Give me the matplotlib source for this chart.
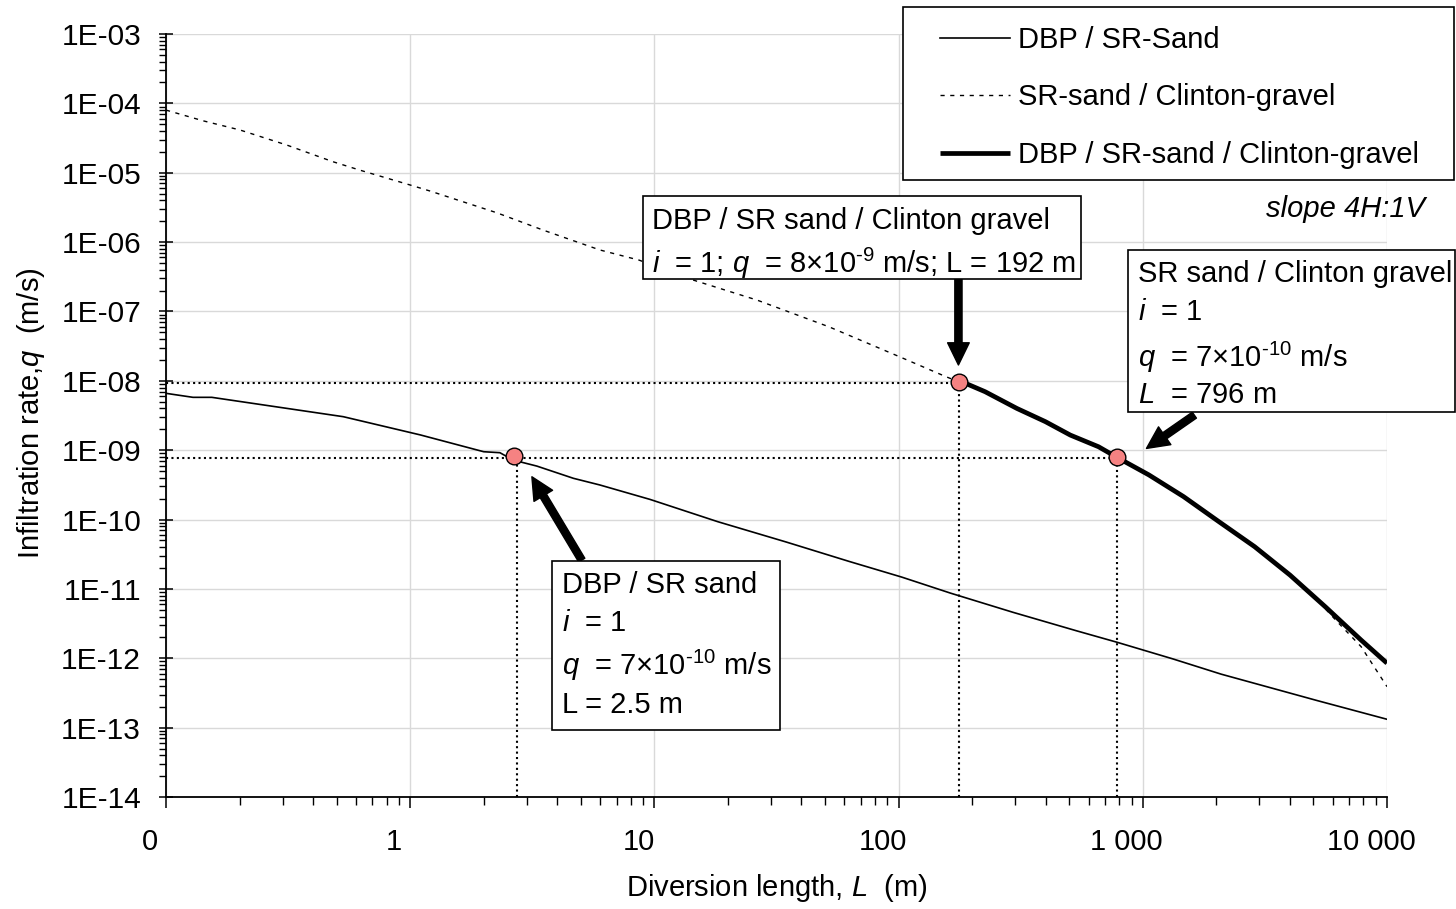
import numpy as np
import matplotlib
matplotlib.use("Agg")
import matplotlib.pyplot as plt
from matplotlib.patches import Rectangle
from matplotlib.transforms import ScaledTranslation
from matplotlib.ticker import FixedLocator, LogLocator, NullFormatter

# ---------------- data ----------------
# DBP / SR-Sand (thin solid)
sand_L = [0.1, 0.129, 0.154, 0.532, 1.10, 2.0, 2.33, 2.64, 3.30, 4.66, 5.98, 9.6,
          18.2, 34.6, 62.5, 103, 163, 294, 533, 785, 1327, 2094, 5212, 10000]
sand_q = [6.6e-9, 5.78e-9, 5.78e-9, 3.04e-9, 1.66e-9, 9.5e-10, 9.2e-10, 7.2e-10,
          5.9e-10, 3.93e-10, 3.15e-10, 1.95e-10, 9.3e-11, 4.75e-11, 2.5e-11,
          1.48e-11, 8.7e-12, 4.6e-12, 2.5e-12, 1.7e-12, 9.8e-13, 5.9e-13,
          2.44e-13, 1.32e-13]

# SR-sand / Clinton-gravel (dotted)
gravel_L = [0.1, 0.142, 0.201, 0.312, 0.483, 0.622, 1.0, 1.205, 2.26, 3.50, 5.98,
            8.65, 14.4, 26.3, 51.9, 101, 156, 176, 188, 226, 305, 399, 505, 659,
            783, 1059, 1469, 2051, 2871, 4009, 5012, 6166, 7834, 10000]
gravel_q = [8.0e-5, 5.6e-5, 4.13e-5, 2.51e-5, 1.44e-5, 1.09e-5, 6.65e-6, 5.45e-6,
            2.65e-6, 1.49e-6, 7.7e-7, 5.5e-7, 2.84e-7, 1.46e-7, 6.0e-8, 2.22e-8,
            1.15e-8, 9.7e-9, 9.2e-9, 6.97e-9, 4.0e-9, 2.58e-9, 1.65e-9, 1.12e-9,
            7.9e-10, 4.4e-10, 2.14e-10, 9.3e-11, 4.06e-11, 1.58e-11, 7.9e-12,
            3.55e-12, 1.47e-12, 3.9e-13]

# DBP / SR-sand / Clinton-gravel (thick solid)
combo_L = [176, 188, 226, 305, 399, 505, 659, 783, 1059, 1469, 2051, 2871, 4009,
           5012, 5598, 7834, 10000]
combo_q = [9.7e-9, 9.2e-9, 6.97e-9, 4.0e-9, 2.58e-9, 1.65e-9, 1.12e-9, 7.9e-10,
           4.4e-10, 2.14e-10, 9.3e-11, 4.06e-11, 1.58e-11, 7.8e-12, 5.5e-12,
           1.83e-12, 8.5e-13]

# highlighted points
point_L = [2.67, 176, 783]
point_q = [8.2e-10, 9.7e-9, 7.9e-10]

# guide lines
guide_h_q = [7.6e-10, 9.4e-9]
guide_h_Lend = [783, 176]
guide_v_L = [2.73, 176, 783]
guide_v_qtop = [7.6e-10, 9.4e-9, 7.6e-10]

x_ticks = [0.1, 1, 10, 100, 1000, 10000]
x_tick_labels = ["0", "1", "10", "100", "1 000", "10 000"]
y_ticks = [1e-14, 1e-13, 1e-12, 1e-11, 1e-10, 1e-9, 1e-8, 1e-7, 1e-6, 1e-5, 1e-4, 1e-3]
y_tick_labels = ["1E-14", "1E-13", "1E-12", "1E-11", "1E-10", "1E-09", "1E-08",
                 "1E-07", "1E-06", "1E-05", "1E-04", "1E-03"]

legend_labels = ["DBP / SR-Sand", "SR-sand / Clinton-gravel", "DBP / SR-sand / Clinton-gravel"]

# ---------------- style ----------------
plt.rcParams["font.family"] = ["Liberation Sans", "DejaVu Sans"]
plt.rcParams["mathtext.fontset"] = "custom"
plt.rcParams["mathtext.rm"] = "Liberation Sans"
plt.rcParams["mathtext.it"] = "Liberation Sans:italic"
plt.rcParams["mathtext.bf"] = "Liberation Sans:bold"

W, H = 1456, 909
FS = 21
fig = plt.figure(figsize=(W / 100, H / 100), dpi=100)
ax = fig.add_axes([166 / W, 1 - 797 / H, 1221 / W, 763 / H])
ax.set_xscale("log")
ax.set_yscale("log")
ax.set_xlim(0.1, 10000)
ax.set_ylim(1e-14, 1e-3)

ax.grid(True, which="major", color="#d9d9d9", lw=1.0, zorder=0)
ax.set_axisbelow(True)
for s in ["top", "right"]:
    ax.spines[s].set_visible(False)
for s in ["left", "bottom"]:
    ax.spines[s].set_linewidth(1.3)

# lines
l_sand, = ax.plot(sand_L, sand_q, color="black", lw=1.2, zorder=3)
l_grav, = ax.plot(gravel_L, gravel_q, color="black", lw=1.0, ls=(0, (3, 4)), zorder=3)
l_comb, = ax.plot(combo_L, combo_q, color="black", lw=3.4, zorder=4, solid_capstyle="butt")

# guides
for q, Lend in zip(guide_h_q, guide_h_Lend):
    ax.plot([0.1, Lend], [q, q], color="black", lw=1.5, ls=(0, (1, 1.6)), zorder=2)
for L, qtop in zip(guide_v_L, guide_v_qtop):
    ax.plot([L, L], [1e-14, qtop], color="black", lw=1.5, ls=(0, (1, 1.6)), zorder=2)

ax.plot(point_L, point_q, ls="none", marker="o", ms=12, mfc="#F58282",
        mec="black", mew=1.0, zorder=6)

# ticks
ax.xaxis.set_major_locator(FixedLocator(x_ticks))
ax.set_xticklabels(x_tick_labels)
ax.xaxis.set_minor_locator(LogLocator(base=10, subs=np.arange(2, 10)))
ax.xaxis.set_minor_formatter(NullFormatter())
ax.yaxis.set_major_locator(FixedLocator(y_ticks))
ax.set_yticklabels(y_tick_labels)
ax.yaxis.set_minor_locator(LogLocator(base=10, subs=np.arange(2, 10), numticks=30))
ax.yaxis.set_minor_formatter(NullFormatter())

ax.tick_params(axis="x", which="major", direction="out", length=8, width=1.1,
               labelsize=21, pad=14)
ax.tick_params(axis="x", which="minor", direction="out", length=5.5, width=1.0)
ax.tick_params(axis="y", which="major", direction="inout", length=10, width=1.1,
               labelsize=21.5, pad=13)
ax.tick_params(axis="y", which="minor", direction="out", length=5, width=1.0)

off = ScaledTranslation(-0.16, 0, fig.dpi_scale_trans)
for t in ax.xaxis.get_major_ticks():
    t.label1.set_transform(t.label1.get_transform() + off)

ax.set_xlabel("Diversion length, $L$  (m)", fontsize=FS)
ax.xaxis.set_label_coords(0.5, (797 - 888) / 763)
ax.xaxis.label.set_verticalalignment("center")
ax.set_ylabel("Infiltration rate,$q$  (m/s)", fontsize=FS)
ax.yaxis.set_label_coords((31 - 166) / 1221, (797 - 413) / 763)
ax.yaxis.label.set_verticalalignment("center")

# arrows
asty = "simple,head_length=0.8,head_width=0.78,tail_width=0.26"
for tip, tail in [((3.15, 4.14e-10), (5.04, 2.6e-11)),
                  ((175.8, 1.69e-8), (175.8, 2.9e-7)),
                  ((1035, 1.06e-9), (1626, 3.2e-9))]:
    ax.annotate("", xy=tip, xytext=tail, xycoords="data", textcoords="data",
                arrowprops=dict(arrowstyle=asty, mutation_scale=20, fc="black",
                                ec="black", shrinkA=0, shrinkB=0), zorder=7)

# text boxes (figure pixel positions)
def box(x0, y0, x1, y1, z=8):
    fig.add_artist(Rectangle((x0 / W, 1 - y1 / H), (x1 - x0) / W, (y1 - y0) / H,
                             transform=fig.transFigure, facecolor="white",
                             edgecolor="black", lw=1.2, zorder=z))

def txt(px, py, s, **kw):
    fig.text(px / W, 1 - py / H, s, fontsize=FS, ha="left", va="baseline", zorder=9, **kw)

box(643, 196, 1081, 279)
txt(652, 229, "DBP / SR sand / Clinton gravel")
txt(652, 273, r"$i$  = 1; $q$  = 8×10$^{\text{-9}}$ m/s; L = 192 m")

box(1128, 250, 1455, 412)
txt(1138, 282, "SR sand / Clinton gravel")
txt(1138, 320, "$i$  = 1")
txt(1138, 367, r"$q$  = 7×10$^{\text{-10}}$ m/s")
txt(1138, 403, "$L$  = 796 m")

box(552, 561, 780, 730)
txt(562, 593, "DBP / SR sand")
txt(562, 631, "$i$  = 1")
txt(562, 675, r"$q$  = 7×10$^{\text{-10}}$ m/s")
txt(562, 713, "L = 2.5 m")

fig.text(1425 / W, 1 - 217 / H, "slope 4H:1V", fontsize=FS, style="italic",
         ha="right", va="baseline")

# legend: frame drawn as a rectangle, entries by matplotlib legend
box(903, 7, 1454, 180, z=9)
leg = fig.legend([l_sand, l_grav, l_comb], legend_labels,
                 loc="upper left", bbox_to_anchor=(940 / W, 1 - 26 / H), borderaxespad=0,
                 fontsize=FS, frameon=False, handlelength=2.4, handletextpad=0.28,
                 borderpad=0, labelspacing=1.01)
leg.set_zorder(10)

fig.savefig("out.png", dpi=100)
